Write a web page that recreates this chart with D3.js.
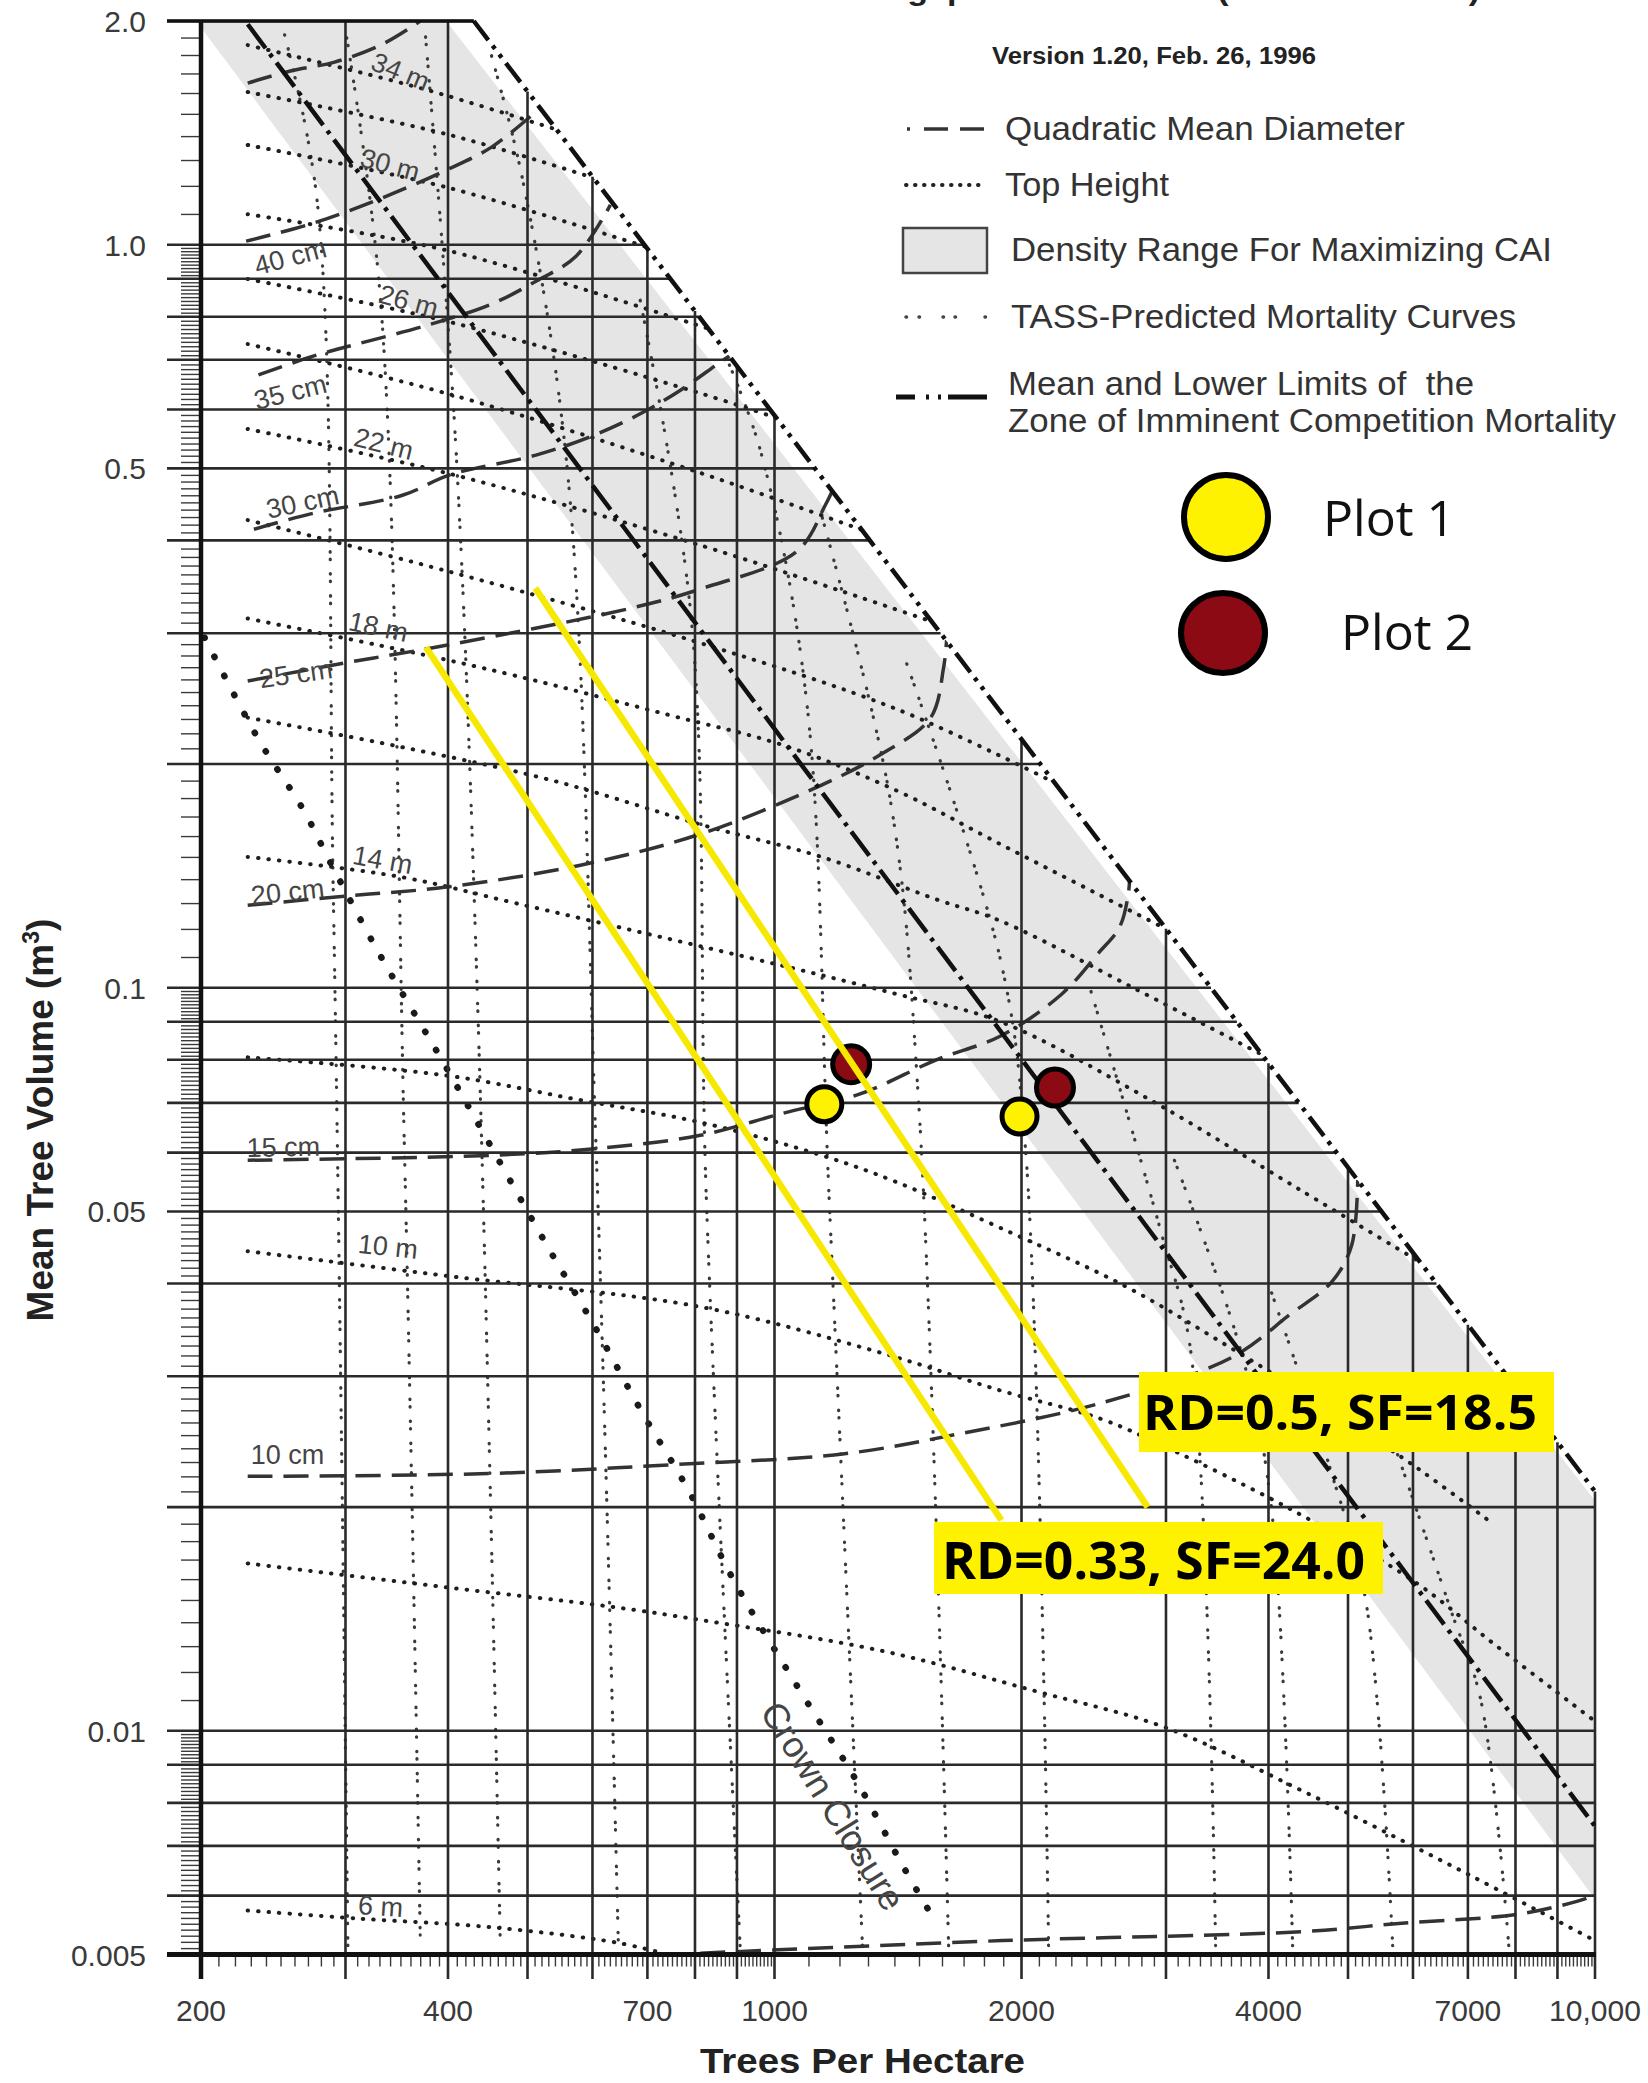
<!DOCTYPE html>
<html>
  <head>
    <meta charset="utf-8">
    <script src="https://cdnjs.cloudflare.com/ajax/libs/d3/7.8.5/d3.min.js"></script>
    <style>
      body { margin: 0; background: #fff; }
      text { font-family: "Liberation Sans", Arial, sans-serif; }
      .grid line { stroke: #2a2a2a; stroke-width: 2.6; }
      .minor line { stroke: #3a3a3a; stroke-width: 1.4; }
      .minor path { display: none; }
      .height { fill: none; stroke: #1e1e1e; stroke-width: 4; stroke-linecap: round; stroke-dasharray: 0.5 10; }
      .qmd { fill: none; stroke: #333; stroke-width: 3.5; stroke-dasharray: 25 11; }
      .tass { fill: none; stroke: #3a3a3a; stroke-width: 3.2; stroke-linecap: round; stroke-dasharray: 0.5 7 0.5 14; }
      .crown { fill: none; stroke: #1a1a1a; stroke-width: 6.5; stroke-linecap: round; stroke-dasharray: 0.5 21; }
      .zicm { fill: none; stroke: #111; stroke-width: 4.5; }
      .lbl { fill: #454545; font-size: 27px; }
      .tick { fill: #3a3a3a; font-size: 30px; }
      .leg { fill: #333; font-size: 33px; }
    </style>
  </head>
  <body>
    <script>
      // ---- data (trees/ha, m3) ----
      var xTicks = [200, 400, 700, 1000, 2000, 4000, 7000, 10000];
      var xTickLabels = ["200", "400", "700", "1000", "2000", "4000", "7000", "10,000"];
      var yTicks = [2.0, 1.0, 0.5, 0.1, 0.05, 0.01, 0.005];
      var yTickLabels = ["2.0", "1.0", "0.5", "0.1", "0.05", "0.01", "0.005"];
      var xGrid = [300, 400, 500, 600, 700, 800, 900, 1000, 2000, 3000, 4000, 5000, 6000, 7000, 8000, 9000, 10000];
      var yGrid = [2.0, 1.0, 0.9, 0.8, 0.7, 0.6, 0.5, 0.4, 0.3, 0.2, 0.1, 0.09, 0.08, 0.07, 0.06, 0.05, 0.04, 0.03, 0.02, 0.01, 0.009, 0.008, 0.007, 0.006];

      // zone of imminent competition mortality (upper = outer limit of diagram)
      var zicmUpper = [[430, 2.0], [10000, 0.0210]];
      var zicmLower = [[228, 1.98], [10000, 0.00744]];

      // density range for maximizing CAI
      var caiBand = [[200, 2.0], [398, 2.0], [10000, 0.0204], [10000, 0.00594], [200, 1.96]];

      // top height lines
      var heightNames = ["34 m", "30 m", "26 m", "22 m", "18 m", "14 m", "10 m", "6 m"];
      var th34 = [[228, 1.856], [370, 1.625], [544, 1.427]];
      var th32 = [[228, 1.605], [398, 1.409], [603, 1.229]];
      var th30 = [[228, 1.362], [398, 1.195], [698, 0.993]];
      var th28 = [[228, 1.099], [398, 0.983], [833, 0.770]];
      var th26 = [[228, 0.899], [398, 0.789], [812, 0.631], [1008, 0.584]];
      var th24 = [[228, 0.735], [398, 0.631], [812, 0.493], [1280, 0.413]];
      var th22 = [[228, 0.565], [398, 0.493], [812, 0.394], [1562, 0.3105]];
      var th20 = [[228, 0.426], [398, 0.364], [812, 0.291], [1424, 0.236], [2170, 0.190]];
      var th18 = [[228, 0.314], [350, 0.285], [483, 0.263], [742, 0.233], [1025, 0.212], [1412, 0.184], [1886, 0.156], [3000, 0.120]];
      var th16 = [[228, 0.231], [350, 0.211], [537, 0.190], [826, 0.165], [1141, 0.150], [1575, 0.1315], [1886, 0.123], [2770, 0.0993], [3934, 0.0812]];
      var th14 = [[228, 0.150], [350, 0.141], [483, 0.130], [704, 0.118], [1025, 0.107], [1412, 0.098], [1886, 0.090], [2873, 0.0706], [4378, 0.0534], [6150, 0.0426]];
      var th12 = [[228, 0.0806], [398, 0.0762], [580, 0.0706], [812, 0.0659], [1141, 0.0595], [1412, 0.0547], [1886, 0.0475], [2671, 0.0397], [3607, 0.0327], [4764, 0.0270], [6133, 0.0224], [7506, 0.0190]];
      var th10 = [[228, 0.0442], [402, 0.0409], [812, 0.0372], [1357, 0.0322], [1886, 0.0287], [2497, 0.0263], [2997, 0.0241], [4245, 0.0199], [6014, 0.0159], [7591, 0.0130], [10000, 0.0103]];
      var th8 = [[228, 0.0168], [398, 0.0156], [629, 0.0147], [812, 0.0141], [1357, 0.0128], [2086, 0.0113], [2997, 0.0101], [4440, 0.00826], [6672, 0.00659], [10000, 0.00522]];
      var th6 = [[228, 0.00573], [310, 0.00559], [452, 0.00544], [641, 0.00519], [726, 0.00503]];

      // quadratic mean diameter lines
      var qmdNames = ["40 cm", "35 cm", "30 cm", "25 cm", "20 cm", "15 cm", "10 cm"];
      var qmd45 = [[228, 1.650], [257, 1.713], [291, 1.761], [331, 1.856], [361, 1.963], [370, 2.0]];
      var qmd40 = [[227, 1.011], [274, 1.069], [330, 1.152], [398, 1.260], [452, 1.353], [518, 1.527]];
      var qmd35 = [[235, 0.668], [274, 0.708], [310, 0.735], [374, 0.777], [452, 0.832], [512, 0.893], [573, 0.965], [631, 1.131]];
      var qmd30 = [[232, 0.414], [274, 0.435], [352, 0.460], [402, 0.490], [512, 0.521], [600, 0.553], [688, 0.593], [768, 0.637], [854, 0.692], [884, 0.710]];
      var qmd25 = [[228, 0.2587], [299, 0.2735], [398, 0.289], [667, 0.324], [812, 0.344], [1066, 0.387], [1153, 0.446], [1177, 0.467]];
      var qmd20 = [[228, 0.1291], [299, 0.1328], [398, 0.1366], [580, 0.1462], [812, 0.1610], [1141, 0.1874], [1350, 0.2063], [1549, 0.2306], [1607, 0.2693], [1621, 0.294]];
      var qmd15 = [[228, 0.0586], [452, 0.0595], [603, 0.0607], [812, 0.0633], [1025, 0.0678], [1269, 0.0719], [1575, 0.0800], [1886, 0.0861], [2238, 0.0980], [2476, 0.1110], [2634, 0.1207], [2701, 0.1345], [2708, 0.1396]];
      var qmd10 = [[228, 0.0220], [452, 0.0222], [746, 0.0228], [1217, 0.0236], [1680, 0.0251], [2497, 0.0276], [3607, 0.0318], [4245, 0.0363], [4777, 0.0402], [5051, 0.0450], [5138, 0.0551]];
      var qmd5 = [[812, 0.00502], [1896, 0.00522], [4440, 0.00537], [5814, 0.00551], [8028, 0.00566], [9528, 0.00590], [10000, 0.00601]];

      // TASS-predicted mortality curves
      var tass1 = [[302, 0.00514], [290, 0.1312], [277, 1.148], [252, 1.944]];
      var tass2 = [[370, 0.00531], [354, 0.0605], [331, 0.842], [300, 1.944]];
      var tass3 = [[463, 0.00531], [435, 0.0927], [408, 0.558], [375, 1.944]];
      var tass4 = [[645, 0.00523], [606, 0.0612], [559, 0.499], [493, 1.226], [450, 1.827]];
      var tass5 = [[908, 0.00514], [826, 0.0518], [792, 0.3125], [686, 0.842]];
      var tass6 = [[1280, 0.00514], [1166, 0.0518], [1094, 0.2438], [961, 0.529], [871, 0.710]];
      var tass7 = [[1630, 0.00514], [1498, 0.0706], [1384, 0.1789], [1137, 0.439]];
      var tass8 = [[2158, 0.00514], [2023, 0.0605], [1886, 0.1089], [1444, 0.2760]];
      var tass9 = [[3448, 0.00514], [3215, 0.0325], [2954, 0.0472], [2428, 0.0993]];
      var tass10 = [[4280, 0.00514], [4024, 0.0204], [3700, 0.0325], [3038, 0.0605]];
      var tass11 = [[5668, 0.00514], [5254, 0.0150], [4764, 0.0224], [4024, 0.0392]];
      var tass12 = [[7850, 0.00514], [7258, 0.0110], [6672, 0.01454], [5558, 0.0262]];

      var crownClosure = [[202, 0.296], [235, 0.216], [267, 0.173], [287, 0.148], [330, 0.111], [390, 0.0812], [450, 0.0615], [528, 0.0450], [602, 0.0352], [690, 0.0268], [785, 0.0211], [893, 0.0159], [1065, 0.0115], [1259, 0.00856], [1438, 0.00654], [1575, 0.00551]];

      // thinning lines and plots
      var annotationLabels = ["RD=0.5, SF=18.5", "RD=0.33, SF=24.0"];
      var rd05 = [[511, 0.345], [2850, 0.0200]];
      var rd033 = [[376, 0.2873], [1890, 0.0192]];
      var plotNames = ["Plot 1", "Plot 2"];
      var plot1 = [[1150, 0.0697], [1989, 0.0671]];
      var plot2 = [[1240, 0.0789], [2197, 0.0734]];

      // ---- drawing ----
      var W = 1648, H = 2083;
      var svg = d3.select("body").append("svg").attr("width", W).attr("height", H);
      svg.append("rect").attr("width", W).attr("height", H).attr("fill", "#fff");

      var x = d3.scaleLog().domain([200, 10000]).range([201, 1595]);
      var y = d3.scaleLog().domain([0.005, 2]).range([1954.5, 21]);

      var L = Math.log10;
      var bSlope = (L(zicmUpper[1][1]) - L(zicmUpper[0][1])) / (L(zicmUpper[1][0]) - L(zicmUpper[0][0]));
      function boundaryV(n) {
        if (n <= zicmUpper[0][0]) return 2;
        return Math.pow(10, L(zicmUpper[0][1]) + bSlope * (L(n) - L(zicmUpper[0][0])));
      }
      function boundaryN(v) {
        if (v <= zicmUpper[1][1]) return 10000;
        return Math.pow(10, L(zicmUpper[0][0]) + (L(v) - L(zicmUpper[0][1])) / bSlope);
      }

      var line = d3.line().x(function(d) { return x(d[0]); }).y(function(d) { return y(d[1]); })
                   .curve(d3.curveCatmullRom.alpha(0.5));
      var straight = d3.line().x(function(d) { return x(d[0]); }).y(function(d) { return y(d[1]); });

      // clip to diagram area
      var clipPts = [[200, 2], zicmUpper[0], zicmUpper[1], [10000, 0.005], [200, 0.005]];
      svg.append("clipPath").attr("id", "area").append("path")
         .attr("d", straight(clipPts) + "Z");

      var plotG = svg.append("g").attr("clip-path", "url(#area)");
      plotG.append("path").attr("d", straight(caiBand) + "Z").attr("fill", "#e5e5e5");

      // grid
      var grid = svg.append("g").attr("class", "grid");
      grid.selectAll(".h").data(yGrid).enter().append("line")
          .attr("x1", 167).attr("x2", function(d) { return x(boundaryN(d)); })
          .attr("y1", function(d) { return y(d); }).attr("y2", function(d) { return y(d); });
      grid.selectAll(".v").data(xGrid).enter().append("line")
          .attr("x1", function(d) { return x(d); }).attr("x2", function(d) { return x(d); })
          .attr("y1", function(d) { return y(boundaryV(d)); }).attr("y2", 1979);

      // minor ticks
      var yMinor = [];
      for (var k = 11; k <= 19; k++) yMinor.push(k / 10);
      for (k = 11; k < 100; k++) if (k % 10) yMinor.push(k / 100);
      for (k = 11; k < 100; k++) if (k % 10) yMinor.push(k / 1000);
      for (k = 51; k < 100; k++) if (k % 10) yMinor.push(k / 10000);
      var xMinor = [];
      for (k = 21; k < 100; k++) if (k % 10) xMinor.push(k * 10);
      for (k = 11; k < 100; k++) if (k % 10) xMinor.push(k * 100);

      svg.append("g").attr("class", "minor").attr("transform", "translate(201,0)")
         .call(d3.axisLeft(y).tickValues(yMinor).tickSize(20).tickSizeOuter(0).tickFormat(""));
      svg.append("g").attr("class", "minor").attr("transform", "translate(0,1954.5)")
         .call(d3.axisBottom(x).tickValues(xMinor).tickSize(12).tickSizeOuter(0).tickFormat(""));

      // curves
      [tass1, tass2, tass3, tass4, tass5, tass6, tass7, tass8, tass9, tass10, tass11, tass12].forEach(function(s) {
        plotG.append("path").attr("class", "tass").attr("d", line(s));
      });
      [th34, th32, th30, th28, th26, th24, th22, th20, th18, th16, th14, th12, th10, th8, th6].forEach(function(s) {
        plotG.append("path").attr("class", "height").attr("d", line(s));
      });
      [qmd45, qmd40, qmd35, qmd30, qmd25, qmd20, qmd15, qmd10, qmd5].forEach(function(s) {
        plotG.append("path").attr("class", "qmd").attr("d", line(s));
      });
      plotG.append("path").attr("class", "crown").attr("d", line(crownClosure));

      svg.append("path").attr("class", "zicm").attr("d", straight(zicmLower))
         .attr("stroke-dasharray", "30 7 4 7");
      svg.append("path").attr("class", "zicm").attr("d", straight(zicmUpper))
         .attr("stroke-dasharray", "24 7 4 7 4 7");

      // axes lines
      svg.append("line").attr("x1", x(200)).attr("x2", x(200)).attr("y1", y(2) - 1).attr("y2", 1979)
         .attr("stroke", "#111").attr("stroke-width", 4.5);
      svg.append("line").attr("x1", 167).attr("x2", x(10000) + 1).attr("y1", y(0.005)).attr("y2", y(0.005))
         .attr("stroke", "#111").attr("stroke-width", 5);
      svg.append("line").attr("x1", 167).attr("x2", x(zicmUpper[0][0])).attr("y1", y(2)).attr("y2", y(2))
         .attr("stroke", "#111").attr("stroke-width", 3.5);

      // tick labels
      svg.selectAll(".ytl").data(yTicks).enter().append("text").attr("class", "tick")
         .attr("x", 146).attr("y", function(d) { return y(d) + 11; }).attr("text-anchor", "end")
         .text(function(d, i) { return yTickLabels[i]; });
      svg.selectAll(".xtl").data(xTicks).enter().append("text").attr("class", "tick")
         .attr("x", function(d) { return x(d); }).attr("y", 2021).attr("text-anchor", "middle")
         .text(function(d, i) { return xTickLabels[i]; });

      // axis titles
      svg.append("text").attr("x", 700).attr("y", 2073)
         .style("font-size", "35px").style("font-weight", "bold").attr("fill", "#222")
         .attr("textLength", 325).attr("lengthAdjust", "spacingAndGlyphs")
         .text("Trees Per Hectare");
      var yt = svg.append("text").attr("transform", "translate(53,1120) rotate(-90)").attr("text-anchor", "middle")
         .style("font-size", "37px").style("font-weight", "bold").attr("fill", "#222");
      yt.append("tspan").text("Mean Tree Volume (m");
      yt.append("tspan").attr("dy", -14).style("font-size", "23px").text("3");
      yt.append("tspan").attr("dy", 14).text(")");

      // line labels (centre in data units, rotation)
      var heightLabelPos = [[350, 1.708, 22], [340, 1.280, 15], [358, 0.839, 15], [334, 0.539, 14],
                            [329, 0.3056, 12], [333, 0.1485, 10], [338, 0.0448, 6], [331, 0.0058, 4]];
      var qmdLabelPos = [[257, 0.962, -15], [257, 0.633, -14], [266, 0.450, -12], [261, 0.2643, -8],
                         [255, 0.1345, -6], [252, 0.0610, -1], [255, 0.0235, 0]];
      function placeLabels(names, pos) {
        svg.selectAll(null).data(names).enter().append("text").attr("class", "lbl")
           .attr("text-anchor", "middle").attr("dominant-baseline", "central")
           .attr("transform", function(d, i) {
             return "translate(" + x(pos[i][0]) + "," + y(pos[i][1]) + ") rotate(" + pos[i][2] + ")";
           })
           .text(function(d) { return d; });
      }
      placeLabels(heightNames, heightLabelPos);
      placeLabels(qmdNames, qmdLabelPos);

      svg.append("text").attr("class", "lbl").style("font-size", "36px")
         .attr("text-anchor", "middle").attr("dominant-baseline", "central")
         .attr("transform", "translate(833,1806) rotate(58)").text("Crown Closure");

      // thinning lines, plot points
      var plotColors = ["#fff200", "#8b0a14"];
      svg.selectAll(".p2").data(plot2).enter().append("circle")
         .attr("cx", function(d) { return x(d[0]); }).attr("cy", function(d) { return y(d[1]); })
         .attr("r", 18.5).attr("fill", plotColors[1]).attr("stroke", "#000").attr("stroke-width", 5);
      [rd05, rd033].forEach(function(s) {
        svg.append("path").attr("d", straight(s)).attr("stroke", "#f7e800").attr("stroke-width", 6.5).attr("fill", "none");
      });
      svg.selectAll(".p1").data(plot1).enter().append("circle")
         .attr("cx", function(d) { return x(d[0]); }).attr("cy", function(d) { return y(d[1]); })
         .attr("r", 17.5).attr("fill", plotColors[0]).attr("stroke", "#000").attr("stroke-width", 5);

      var boxes = [
        { x: 1139, y: 1372, w: 415, h: 80, tx: 1143, ty: 1430, fs: 48, tl: 394 },
        { x: 934, y: 1522, w: 449, h: 72, tx: 942, ty: 1579, fs: 52, tl: 423 }
      ];
      boxes.forEach(function(b, i) {
        svg.append("rect").attr("x", b.x).attr("y", b.y).attr("width", b.w).attr("height", b.h).attr("fill", "#fff200");
        svg.append("text").attr("x", b.tx).attr("y", b.ty)
           .style("font-family", "'Open Sans', 'Noto Sans', sans-serif").style("font-weight", "bold")
           .style("font-size", b.fs + "px").attr("fill", "#000")
           .attr("textLength", b.tl).attr("lengthAdjust", "spacingAndGlyphs")
           .text(annotationLabels[i]);
      });

      // ---- legend ----
      // diagram title, cut by the top edge as in the source image
      svg.append("text").attr("x", 845).attr("y", 0).style("font-size", "30px").style("font-weight", "bold")
         .attr("fill", "#222").attr("textLength", 635).attr("lengthAdjust", "spacingAndGlyphs")
         .text("Lodgepole Pine SDMD (Natural Stands)");
      svg.append("text").attr("x", 1154).attr("y", 64).attr("text-anchor", "middle")
         .style("font-size", "23px").style("font-weight", "bold").attr("fill", "#222")
         .attr("textLength", 324).attr("lengthAdjust", "spacingAndGlyphs")
         .text("Version 1.20, Feb. 26, 1996");

      var lg = svg.append("g");
      lg.append("line").attr("x1", 907).attr("x2", 984).attr("y1", 129).attr("y2", 129)
        .attr("stroke", "#333").attr("stroke-width", 3.5).attr("stroke-dasharray", "3 14 24 12 24 100");
      lg.append("line").attr("x1", 906).attr("x2", 984).attr("y1", 185).attr("y2", 185)
        .attr("stroke", "#222").attr("stroke-width", 4).attr("stroke-linecap", "round").attr("stroke-dasharray", "0.5 8.5");
      lg.append("rect").attr("x", 903).attr("y", 228).attr("width", 84).attr("height", 45)
        .attr("fill", "#e5e5e5").attr("stroke", "#444").attr("stroke-width", 2.5);
      lg.append("line").attr("x1", 906).attr("x2", 986).attr("y1", 317).attr("y2", 317)
        .attr("stroke", "#444").attr("stroke-width", 3.5).attr("stroke-linecap", "round")
        .attr("stroke-dasharray", "0.5 12.5 0.5 23.5 0.5 11.5 0.5 29.5 0.5 100");
      lg.append("line").attr("x1", 896).attr("x2", 987).attr("y1", 397).attr("y2", 397)
        .attr("stroke", "#111").attr("stroke-width", 5).attr("stroke-dasharray", "19 11 3 9 3 7 39 100");

      var legTexts = [
        ["Quadratic Mean Diameter", 1005, 140, 400],
        ["Top Height", 1005, 196, 164],
        ["Density Range For Maximizing CAI", 1011, 261, 541],
        ["TASS-Predicted Mortality Curves", 1011, 328, 505],
        ["Mean and Lower Limits of  the", 1008, 395, 466],
        ["Zone of Imminent Competition Mortality", 1008, 432, 608]
      ];
      lg.selectAll(".lt").data(legTexts).enter().append("text").attr("class", "leg")
        .attr("x", function(d) { return d[1]; }).attr("y", function(d) { return d[2]; })
        .attr("textLength", function(d) { return d[3]; }).attr("lengthAdjust", "spacingAndGlyphs")
        .style("white-space", "pre").attr("xml:space", "preserve")
        .text(function(d) { return d[0]; });

      var plotLegend = [[1226, 517, 42, 42, 1323, 536], [1223, 633, 42, 40, 1341, 650]];
      plotLegend.forEach(function(p, i) {
        lg.append("ellipse").attr("cx", p[0]).attr("cy", p[1]).attr("rx", p[2]).attr("ry", p[3])
          .attr("fill", plotColors[i]).attr("stroke", "#000").attr("stroke-width", 6);
        lg.append("text").attr("x", p[4]).attr("y", p[5])
          .style("font-family", "'Open Sans', 'Noto Sans', sans-serif").style("font-size", "50px")
          .attr("fill", "#111").text(plotNames[i]);
      });
    </script>
  </body>
</html>
